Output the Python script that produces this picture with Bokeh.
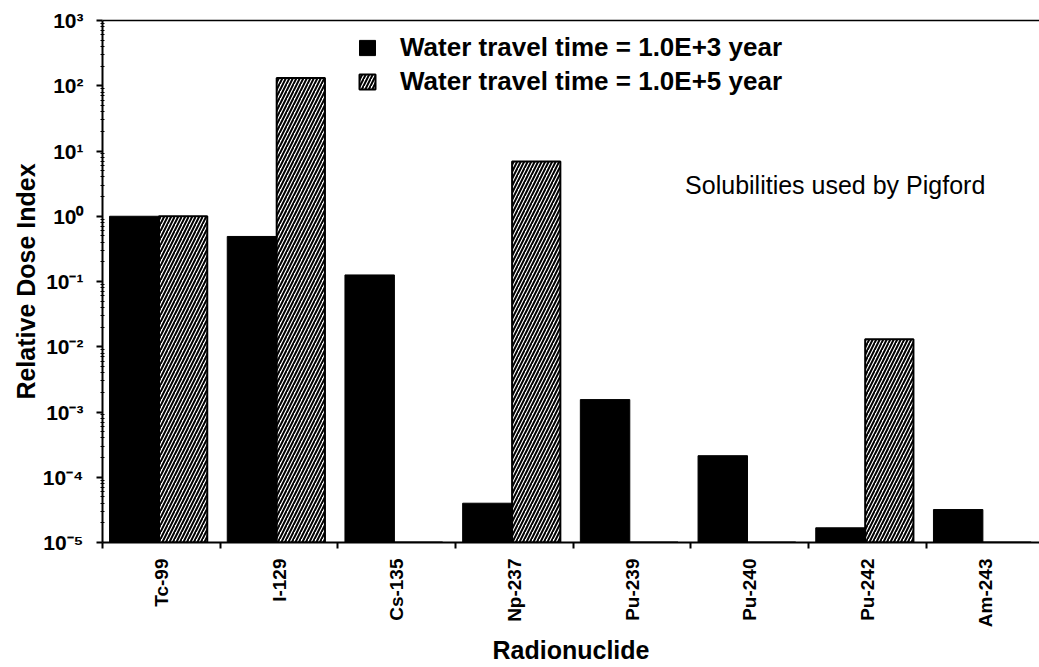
import math
from bokeh.plotting import figure
from bokeh.models import (Range1d, FixedTicker, Legend, LegendItem, Label,
                          LinearAxis, ColumnDataSource)
from bokeh.embed import file_html
from bokeh.resources import INLINE

# ---- data ----
nuclides = ["Tc-99", "I-129", "Cs-135", "Np-237", "Pu-239", "Pu-240", "Pu-242", "Am-243"]
dose_1e3 = [1.0, 0.49, 0.126, 4.0e-5, 1.55e-3, 2.14e-4, 1.68e-5, 3.2e-5]
dose_1e5 = [1.0, 132.0, 1e-5, 6.9, 1e-5, 1e-5, 0.013, 1e-5]   # 1e-5 = below axis floor
series_labels = ["Water travel time = 1.0E+3 year", "Water travel time = 1.0E+5 year"]
y_tick_exps = [-5, -4, -3, -2, -1, 0, 1, 2, 3]
annotation = "Solubilities used by Pigford"

FONT = "Liberation Sans"
floor = 1e-5

idx = list(range(len(nuclides)))
src = ColumnDataSource(dict(
    x1=[i + 0.27 for i in idx],
    x2=[i + 0.685 for i in idx],
    v1=dose_1e3,
    v2=dose_1e5,
))

p = figure(width=1039, height=667, y_axis_type="log",
           x_range=Range1d(0, 7.961), y_range=Range1d(floor, 1e3),
           output_backend="svg", toolbar_location=None,
           min_border_left=102, min_border_right=0, min_border_top=20, min_border_bottom=124)
p.grid.visible = False
p.outline_line_color = None
p.background_fill_color = "white"

r1 = p.vbar(x="x1", top="v1", bottom=floor, width=0.42, source=src,
            fill_color="black", line_color="black", line_width=1)
r2 = p.vbar(x="x2", top="v2", bottom=floor, width=0.41, source=src,
            fill_color="white", hatch_pattern="/", hatch_color="black",
            hatch_weight=2, hatch_scale=7, line_color="black", line_width=2)

# x axis
xa = p.xaxis[0]
xa.ticker = FixedTicker(ticks=[i + 0.5 for i in idx], minor_ticks=[i for i in range(len(nuclides) + 1)])
xa.major_label_overrides = {i + 0.5: n for i, n in enumerate(nuclides)}
xa.major_label_orientation = math.pi / 2
xa.major_tick_in = 0
xa.major_tick_out = 0
xa.minor_tick_in = 0
xa.minor_tick_out = 6
xa.minor_tick_line_width = 2
xa.axis_line_width = 2
xa.major_label_text_font = FONT
xa.major_label_text_font_style = "bold"
xa.major_label_text_font_size = "19px"
xa.major_label_text_color = "black"
xa.major_label_standoff = 10
xa.axis_label = "Radionuclide"
xa.axis_label_text_font = FONT
xa.axis_label_text_font_style = "bold"
xa.axis_label_text_font_size = "25px"
xa.axis_label_text_color = "black"
xa.axis_label_standoff = 6

# y axis
sup = str.maketrans("-0123456789", "⁻⁰¹²³⁴⁵⁶⁷⁸⁹")
ya = p.yaxis[0]
ya.ticker = FixedTicker(ticks=[10.0 ** e for e in y_tick_exps],
                        minor_ticks=[m * 10.0 ** e for e in y_tick_exps[:-1] for m in range(2, 10)])
ya.major_label_overrides = {10.0 ** e: "10" + str(e).translate(sup) for e in y_tick_exps}
ya.major_tick_in = 0
ya.major_tick_out = 6
ya.minor_tick_in = 2
ya.minor_tick_out = 2
ya.major_tick_line_width = 2
ya.axis_line_width = 2
ya.major_label_text_font = FONT
ya.major_label_text_font_style = "bold"
ya.major_label_text_font_size = "21px"
ya.major_label_text_color = "black"
ya.major_label_standoff = 13
ya.axis_label = "Relative Dose Index"
ya.axis_label_text_font = FONT
ya.axis_label_text_font_style = "bold"
ya.axis_label_text_font_size = "25px"
ya.axis_label_text_color = "black"
ya.axis_label_standoff = 0

# top border line
top = LinearAxis(ticker=FixedTicker(ticks=[]), major_label_text_font_size="0px",
                 major_tick_out=0, minor_tick_out=0, axis_line_width=1.5)
p.add_layout(top, "above")

legend = Legend(items=[LegendItem(label=series_labels[0], renderers=[r1]),
                       LegendItem(label=series_labels[1], renderers=[r2])],
                location=(255, 445), orientation="vertical",
                border_line_color=None, background_fill_alpha=0,
                padding=0, margin=0, spacing=3,
                glyph_width=20, glyph_height=19, label_standoff=23,
                label_text_font=FONT, label_text_font_style="bold",
                label_text_font_size="26px", label_text_color="black", label_height=20)
p.add_layout(legend)

p.add_layout(Label(x=4.95, y=3.0, text=annotation, text_font=FONT,
                   text_font_size="25px", text_baseline="middle", text_color="black"))

open("out.html", "w").write(file_html(p, INLINE))
